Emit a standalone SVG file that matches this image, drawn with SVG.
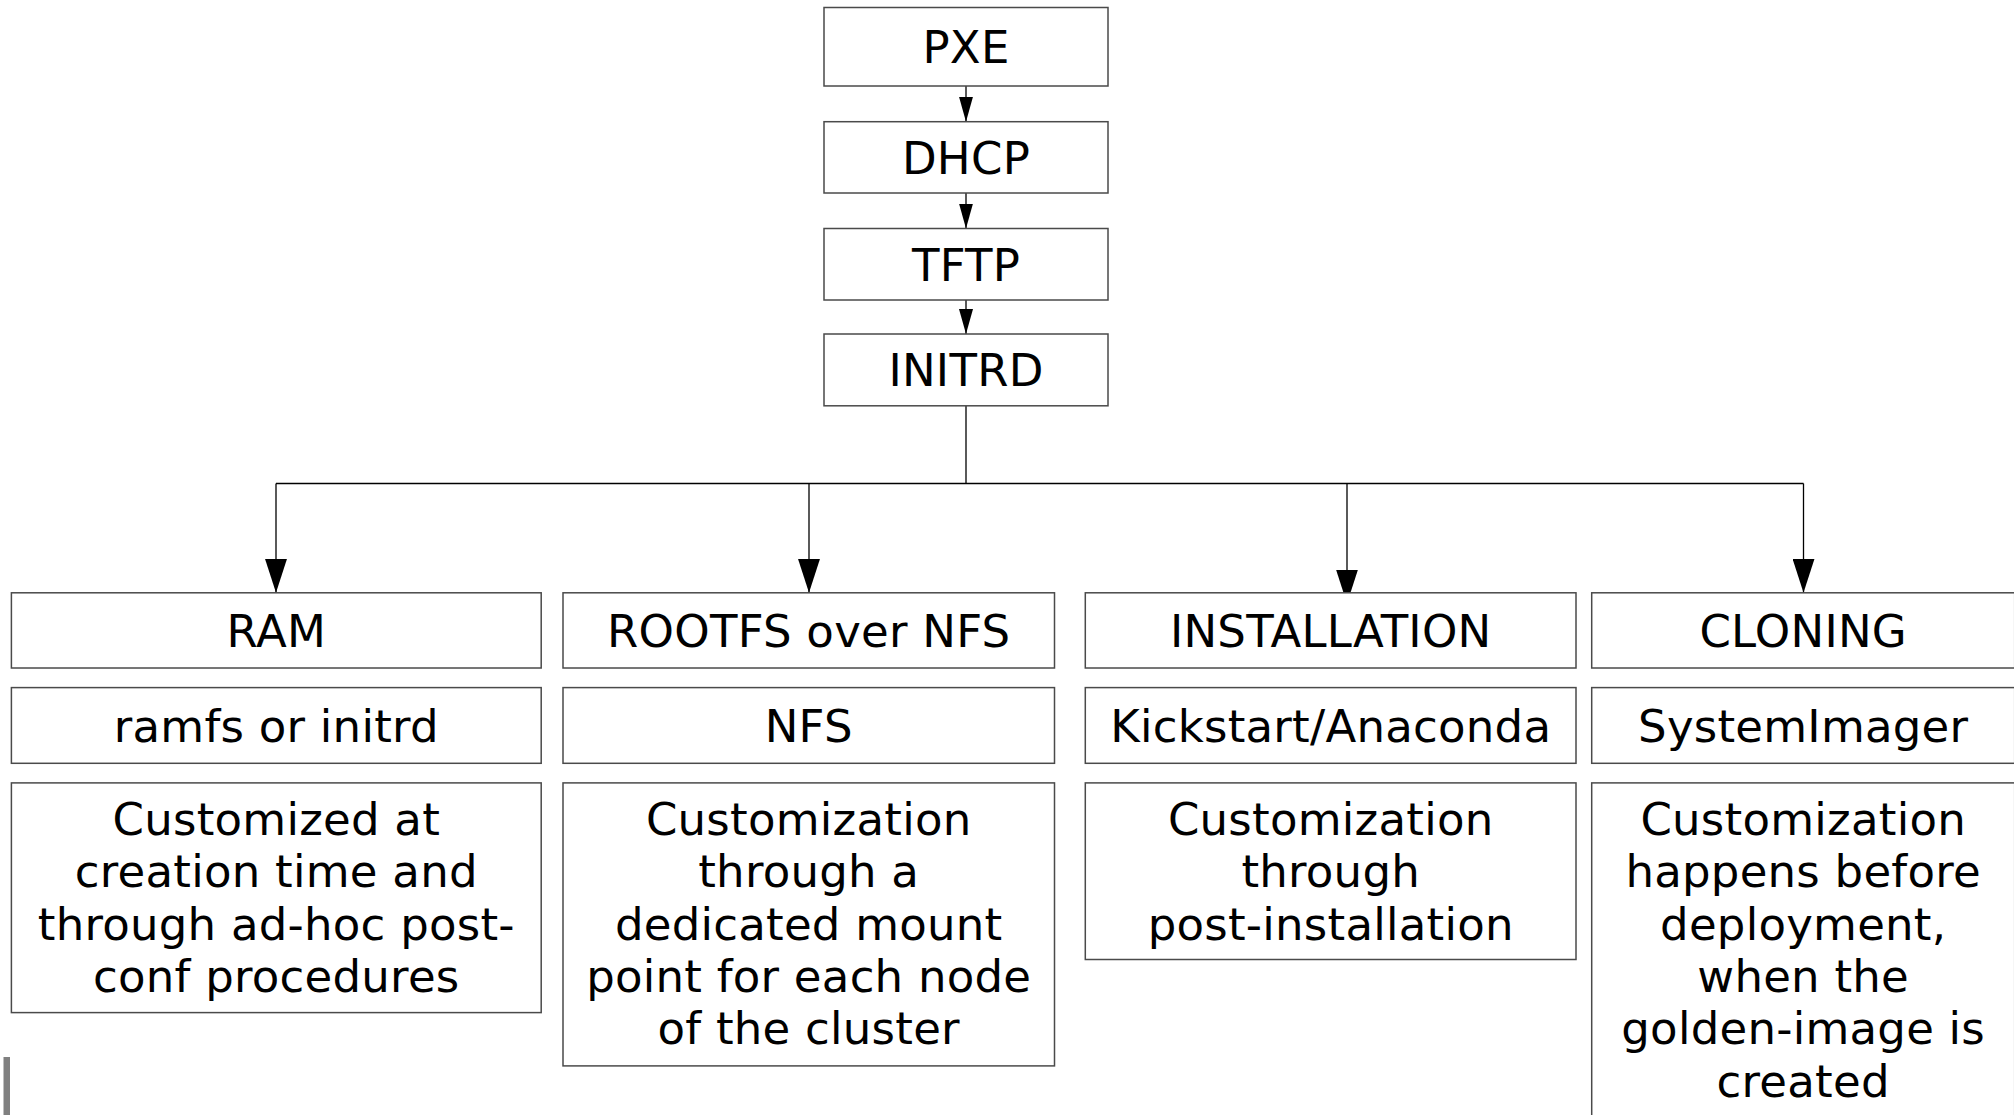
<svg xmlns="http://www.w3.org/2000/svg" width="2014" height="1115" viewBox="0 0 2014 1115">
<style>
.box{fill:#fff;stroke:#4a4a4a;stroke-width:1.5}
.t{font-family:"DejaVu Sans","Liberation Sans",sans-serif;font-size:45px;letter-spacing:0.25px;fill:#000;text-anchor:middle}
.c{fill:none;stroke:#000;stroke-width:1.3}
</style>
<defs>
<marker id="big" markerUnits="userSpaceOnUse" markerWidth="34" markerHeight="22" refX="34" refY="11" orient="auto">
<path d="M0,0 L34,11 L0,22 z" fill="#000"/>
</marker>
<marker id="small" markerUnits="userSpaceOnUse" markerWidth="25" markerHeight="14" refX="25" refY="7" orient="auto">
<path d="M0,0 L25,7 L0,14 z" fill="#000"/>
</marker>
</defs>
<rect width="2014" height="1115" fill="#fff"/>

<g id="connectors">
<path class="c" d="M966,86 V121.7" marker-end="url(#small)"/>
<path class="c" d="M966,193 V228.5" marker-end="url(#small)"/>
<path class="c" d="M966,300 V334" marker-end="url(#small)"/>
<path class="c" d="M966,405.8 V483.5"/>
<path class="c" d="M276,483.5 H1803.5"/>
<path class="c" d="M276,483.5 V592.8" marker-end="url(#big)"/>
<path class="c" d="M809,483.5 V592.8" marker-end="url(#big)"/>
<path class="c" d="M1347,483.5 V603.5" marker-end="url(#big)"/>
<path class="c" d="M1803.5,483.5 V592.8" marker-end="url(#big)"/>
</g>

<g id="pxe"><rect class="box" x="824" y="7.5" width="284" height="78.5"/><text class="t" x="966" y="63">PXE</text></g>
<g id="dhcp"><rect class="box" x="824" y="121.7" width="284" height="71.3"/><text class="t" x="966" y="173.8">DHCP</text></g>
<g id="tftp"><rect class="box" x="824" y="228.5" width="284" height="71.5"/><text class="t" x="966" y="280.6">TFTP</text></g>
<g id="initrd"><rect class="box" x="824" y="334" width="284" height="71.8"/><text class="t" x="966" y="386.3">INITRD</text></g>

<g id="ram"><rect class="box" x="11.4" y="592.8" width="529.8" height="75.2"/><text class="t" x="276.3" y="646.8">RAM</text></g>
<g id="ramfs"><rect class="box" x="11.4" y="687.6" width="529.8" height="75.7"/><text class="t" x="276.3" y="742">ramfs or initrd</text></g>
<g id="ram-desc"><rect class="box" x="11.4" y="782.9" width="529.8" height="229.7"/>
<text class="t" x="276.3" y="834.7">Customized at<tspan x="276.3" dy="52.4">creation time and</tspan><tspan x="276.3" dy="52.4">through ad-hoc post-</tspan><tspan x="276.3" dy="52.4">conf procedures</tspan></text></g>

<g id="rootfs"><rect class="box" x="563" y="592.8" width="491.5" height="75.2"/><text class="t" x="808.7" y="646.8">ROOTFS over NFS</text></g>
<g id="nfs"><rect class="box" x="563" y="687.6" width="491.5" height="75.7"/><text class="t" x="808.7" y="742">NFS</text></g>
<g id="rootfs-desc"><rect class="box" x="563" y="782.9" width="491.5" height="283"/>
<text class="t" x="808.7" y="834.7">Customization<tspan x="808.7" dy="52.4">through a</tspan><tspan x="808.7" dy="52.4">dedicated mount</tspan><tspan x="808.7" dy="52.4">point for each node</tspan><tspan x="808.7" dy="52.4">of the cluster</tspan></text></g>

<g id="installation"><rect class="box" x="1085.3" y="592.8" width="490.7" height="75.2"/><text class="t" x="1330.7" y="646.8">INSTALLATION</text></g>
<g id="kickstart"><rect class="box" x="1085.3" y="687.6" width="490.7" height="75.7"/><text class="t" x="1330.7" y="742">Kickstart/Anaconda</text></g>
<g id="installation-desc"><rect class="box" x="1085.3" y="782.9" width="490.7" height="176.6"/>
<text class="t" x="1330.7" y="834.7">Customization<tspan x="1330.7" dy="52.4">through</tspan><tspan x="1330.7" dy="52.4">post-installation</tspan></text></g>

<g id="cloning"><rect class="box" x="1591.7" y="592.8" width="423" height="75.2"/><text class="t" x="1803.2" y="646.8">CLONING</text></g>
<g id="systemimager"><rect class="box" x="1591.7" y="687.6" width="423" height="75.7"/><text class="t" x="1803.2" y="742">SystemImager</text></g>
<g id="cloning-desc"><rect class="box" x="1591.7" y="782.9" width="423" height="340"/>
<text class="t" x="1803.2" y="834.7">Customization<tspan x="1803.2" dy="52.4">happens before</tspan><tspan x="1803.2" dy="52.4">deployment,</tspan><tspan x="1803.2" dy="52.4">when the</tspan><tspan x="1803.2" dy="52.4">golden-image is</tspan><tspan x="1803.2" dy="52.4">created</tspan></text></g>

<rect x="3.5" y="1057" width="6.5" height="58" fill="#808080"/>
</svg>
